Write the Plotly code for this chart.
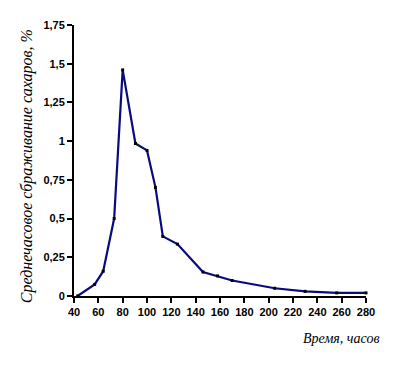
import plotly.graph_objects as go

hours = [43, 57, 64, 73, 80, 90.5, 100, 107, 113, 125, 146, 158, 170, 205, 230, 256, 280]
fermentation = [0.0, 0.075, 0.16, 0.50, 1.46, 0.985, 0.94, 0.70, 0.385, 0.335, 0.155, 0.13, 0.10, 0.05, 0.03, 0.02, 0.02]

x_ticks = list(range(40, 281, 20))
y_ticks = [0, 0.25, 0.5, 0.75, 1, 1.25, 1.5, 1.75]
y_tick_text = ["0", "0,25", "0,5", "0,75", "1", "1,25", "1,5", "1,75"]

fig = go.Figure()
fig.add_trace(go.Scatter(
    x=hours, y=fermentation, mode="lines+markers",
    line=dict(color="#0a0a80", width=2.2),
    marker=dict(color="black", size=3, symbol="square"),
    showlegend=False, cliponaxis=False,
))

tickfont = dict(family="Arial, Liberation Sans, sans-serif", size=11, color="black", weight="bold")
fig.update_layout(
    width=393, height=366,
    margin=dict(l=66, r=35, t=17, b=78),
    paper_bgcolor="white", plot_bgcolor="white",
    xaxis=dict(range=[40, 280], tickvals=x_ticks, ticks="outside", ticklen=5,
               tickwidth=1.5, tickcolor="black", showline=True, linecolor="black",
               linewidth=2, showgrid=False, zeroline=False, tickfont=tickfont),
    yaxis=dict(range=[0, 1.75], tickvals=y_ticks, ticktext=y_tick_text, ticks="outside",
               ticklen=5, tickwidth=1.5, tickcolor="black", showline=True, linecolor="black",
               linewidth=2, showgrid=False, zeroline=False, tickfont=tickfont),
    annotations=[
        dict(text="<i>Среднечасовое сбраживание сахаров, %</i>", xref="paper", yref="paper",
             x=-0.16, y=0.48, xanchor="center", yanchor="middle", textangle=-90,
             showarrow=False, font=dict(family="Liberation Serif, Times New Roman, serif", size=16, color="black")),
        dict(text="<i>Время, часов</i>", xref="paper", yref="paper",
             x=1.05, y=-0.12, xanchor="right", yanchor="top", showarrow=False,
             font=dict(family="Liberation Serif, Times New Roman, serif", size=14, color="black")),
    ],
)
fig.write_html("out.html")
